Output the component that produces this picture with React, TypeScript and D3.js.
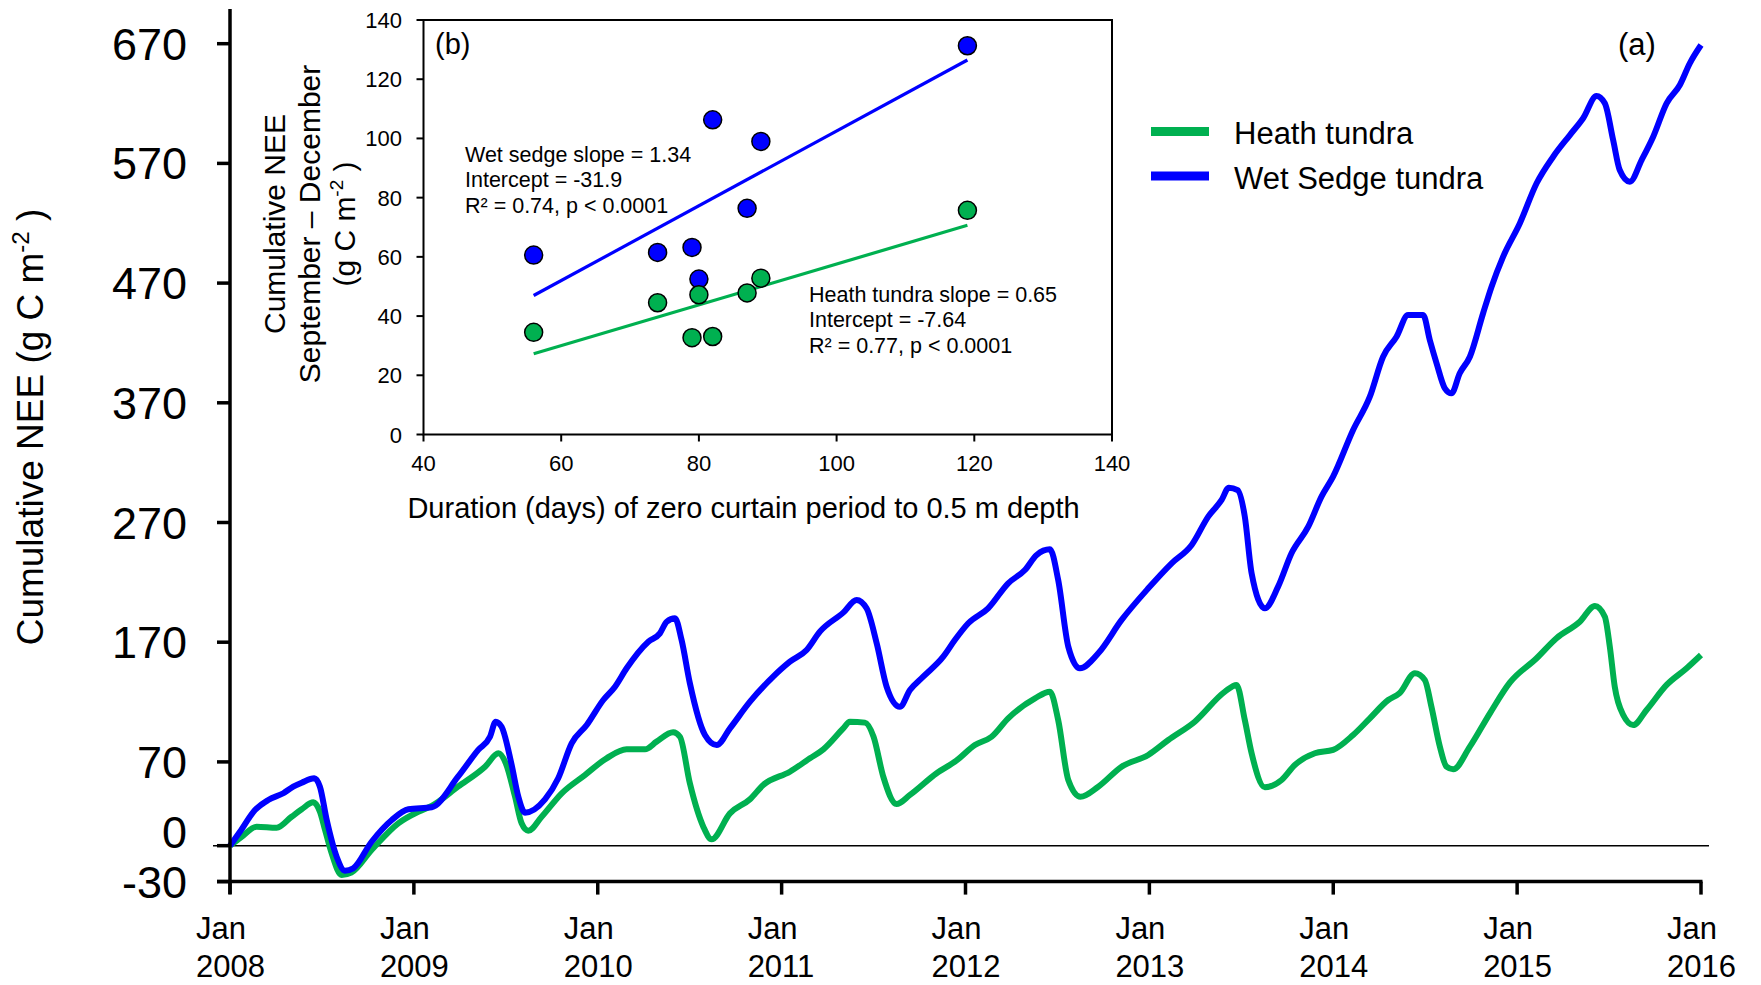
import React, { useEffect, useRef } from 'react';
import * as d3 from 'd3';

type Pt = [number, number]; // [decimal year, cumulative NEE]

const yearTicks = [2008, 2009, 2010, 2011, 2012, 2013, 2014, 2015, 2016];
const neeTicks = [-30, 0, 70, 170, 270, 370, 470, 570, 670];

const heathTundra: Pt[] = [
  [2008.0, 0], [2008.06, 7], [2008.145, 15.9], [2008.254, 15], [2008.335, 24.2], [2008.39, 30.4],
  [2008.453, 36.2], [2008.489, 28.4], [2008.517, 13.1], [2008.553, -6.4], [2008.607, -24.5],
  [2008.66, -22.5], [2008.77, -3.6], [2008.915, 18.7], [2009.024, 28.4], [2009.097, 33.2],
  [2009.24, 49.3], [2009.387, 66], [2009.46, 77.2], [2009.5, 68.8], [2009.55, 41], [2009.586, 18.7],
  [2009.622, 12.5], [2009.695, 24.2], [2009.804, 43.8], [2009.93, 59], [2010.048, 73],
  [2010.157, 80.5], [2010.257, 80.5], [2010.32, 86.9], [2010.41, 94.7], [2010.447, 91],
  [2010.501, 52.1], [2010.574, 15.9], [2010.619, 5.3], [2010.719, 27], [2010.828, 38.8],
  [2010.9, 50.7], [2011.045, 61.8], [2011.154, 73], [2011.227, 80.5], [2011.335, 98],
  [2011.371, 103.6], [2011.453, 102.8], [2011.5, 91], [2011.553, 57.6], [2011.625, 34.8],
  [2011.698, 42.4], [2011.843, 60.5], [2011.95, 71], [2012.051, 84.1], [2012.142, 91],
  [2012.232, 106.4], [2012.378, 123.1], [2012.459, 128.7], [2012.504, 105], [2012.559, 54.9],
  [2012.625, 40.9], [2012.722, 49.3], [2012.849, 66], [2012.994, 75.8], [2013.103, 88.3],
  [2013.247, 103.6], [2013.411, 128.7], [2013.474, 134.3], [2013.519, 105], [2013.556, 77.2],
  [2013.628, 48.8], [2013.719, 54.9], [2013.791, 67.4], [2013.9, 77.2], [2013.999, 80],
  [2014.108, 92.5], [2014.199, 106.4], [2014.299, 121.7], [2014.36, 127.3], [2014.444, 144],
  [2014.498, 138.4], [2014.534, 116.1], [2014.58, 82.7], [2014.616, 66], [2014.652, 63.8],
  [2014.743, 82.7], [2014.852, 110.6], [2014.96, 136.2], [2015.106, 156.6], [2015.214, 173.3],
  [2015.341, 187.1], [2015.423, 200.3], [2015.477, 191.3], [2015.504, 166.3], [2015.531, 132.8],
  [2015.577, 109.2], [2015.631, 100.8], [2015.704, 113.4], [2015.813, 134.3], [2015.922, 148.2],
  [2016.0, 159.3],
];

const wetSedgeTundra: Pt[] = [
  [2008.0, 0], [2008.054, 11.7], [2008.136, 29.8], [2008.208, 38.2], [2008.29, 43.8],
  [2008.344, 49.3], [2008.39, 52.6], [2008.458, 56.3], [2008.489, 49.3], [2008.526, 21.5],
  [2008.58, -9.2], [2008.625, -20.9], [2008.67, -18.9], [2008.77, 3.3], [2008.88, 21.5],
  [2008.97, 30.4], [2009.097, 32.1], [2009.24, 57.6], [2009.35, 80], [2009.414, 91],
  [2009.445, 103.6], [2009.477, 99.4], [2009.53, 68.8], [2009.568, 41], [2009.604, 27.6],
  [2009.713, 38.7], [2009.785, 56.3], [2009.858, 85.5], [2009.94, 100.8], [2010.03, 121.7],
  [2010.094, 132.8], [2010.157, 148.2], [2010.275, 170.4], [2010.338, 177.4], [2010.375, 187.1],
  [2010.42, 190], [2010.456, 171.8], [2010.501, 135.7], [2010.583, 92.5], [2010.647, 84.1],
  [2010.719, 98], [2010.828, 120.3], [2010.954, 141.2], [2011.045, 153.7], [2011.136, 163.5],
  [2011.208, 178.8], [2011.335, 194.7], [2011.408, 205.3], [2011.462, 198.3], [2011.517, 169.1],
  [2011.571, 132.8], [2011.643, 116.1], [2011.698, 130], [2011.77, 141.2], [2011.879, 157.9],
  [2011.942, 171.8], [2012.015, 185.8], [2012.123, 198.3], [2012.232, 219.2], [2012.323, 230.3],
  [2012.387, 242.9], [2012.459, 247.6], [2012.504, 222], [2012.559, 166.3], [2012.622, 148.2],
  [2012.722, 160.7], [2012.849, 188.6], [2012.994, 215], [2013.121, 235.9], [2013.23, 251.2],
  [2013.32, 274.9], [2013.393, 288.8], [2013.432, 299.1], [2013.48, 297.1], [2013.519, 274.9],
  [2013.556, 227.6], [2013.628, 198.3], [2013.7, 216.4], [2013.773, 244.3], [2013.864, 266.5],
  [2013.936, 291.6], [2013.999, 308.3], [2014.108, 347.3], [2014.199, 375.1], [2014.271, 408.5],
  [2014.344, 425.2], [2014.407, 443.4], [2014.489, 443.4], [2014.525, 422.5], [2014.562, 403],
  [2014.607, 382.1], [2014.643, 377.9], [2014.688, 394.7], [2014.743, 408.5], [2014.815, 444.8],
  [2014.861, 467], [2014.924, 492.1], [2015.015, 520], [2015.106, 553.4], [2015.196, 575.6],
  [2015.287, 593.7], [2015.359, 607.7], [2015.432, 626.3], [2015.477, 620.2], [2015.522, 589.6],
  [2015.558, 564.5], [2015.613, 554.7], [2015.677, 572.8], [2015.74, 592.3], [2015.813, 620.2],
  [2015.885, 635.5], [2015.939, 653.6], [2016.0, 668.9],
];

// inset (b)
const zeroCurtainDays = [56, 74, 79, 80, 82, 87, 89, 119];
const wetSedgeSepDec = [60.6, 61.5, 63.2, 52.5, 106.3, 76.4, 99, 131.3];
const heathSepDec = [34.5, 44.5, 32.7, 47.2, 33.1, 47.8, 52.8, 75.7];
const insetXTicks = [40, 60, 80, 100, 120, 140];
const insetYTicks = [0, 20, 40, 60, 80, 100, 120, 140];
const wetSedgeStats = ['Wet sedge slope = 1.34', 'Intercept = -31.9', 'R² = 0.74, p < 0.0001'];
const heathStats = ['Heath tundra slope = 0.65', 'Intercept = -7.64', 'R² = 0.77, p < 0.0001'];

const GREEN = '#00b050';
const BLUE = '#0000ff';
const FONT = 'Arial, "Liberation Sans", sans-serif';

// least squares fit through the inset points
function fit(xs: number[], ys: number[]) {
  const mx = d3.mean(xs)!;
  const my = d3.mean(ys)!;
  let sxy = 0;
  let sxx = 0;
  xs.forEach((x, i) => {
    sxy += (x - mx) * (ys[i] - my);
    sxx += (x - mx) * (x - mx);
  });
  const slope = sxy / sxx;
  return (x: number) => my + slope * (x - mx);
}

const App: React.FC = () => {
  const svgRef = useRef<SVGSVGElement>(null);

  useEffect(() => {
    if (!svgRef.current) return;
    const svg = d3.select(svgRef.current);
    svg.selectAll('*').remove();
    svg.attr('font-family', FONT);

    // ---- main panel (a)
    const x = d3.scaleLinear().domain([2008, 2016]).range([230, 1701]);
    const y = d3.scaleLinear().domain([-30, 670]).range([881.6, 43.7]);

    const main = svg.append('g');

    // zero line
    main
      .append('line')
      .attr('x1', 213)
      .attr('x2', 1709)
      .attr('y1', y(0))
      .attr('y2', y(0))
      .attr('stroke', '#000')
      .attr('stroke-width', 1.6);

    const line = d3
      .line<Pt>()
      .x((d) => x(d[0]))
      .y((d) => y(d[1]))
      .curve(d3.curveMonotoneX);

    main
      .append('path')
      .datum(heathTundra)
      .attr('d', line)
      .attr('fill', 'none')
      .attr('stroke', GREEN)
      .attr('stroke-width', 6)
      .attr('stroke-linejoin', 'round');

    main
      .append('path')
      .datum(wetSedgeTundra)
      .attr('d', line)
      .attr('fill', 'none')
      .attr('stroke', BLUE)
      .attr('stroke-width', 6)
      .attr('stroke-linejoin', 'round');

    // y axis
    main
      .append('line')
      .attr('x1', 230)
      .attr('x2', 230)
      .attr('y1', 9)
      .attr('y2', 894)
      .attr('stroke', '#000')
      .attr('stroke-width', 3.5);

    main
      .selectAll('line.ytick')
      .data(neeTicks)
      .enter()
      .append('line')
      .attr('class', 'ytick')
      .attr('x1', 217)
      .attr('x2', 230)
      .attr('y1', (d) => y(d))
      .attr('y2', (d) => y(d))
      .attr('stroke', '#000')
      .attr('stroke-width', 3.5);

    main
      .selectAll('text.ylab')
      .data(neeTicks)
      .enter()
      .append('text')
      .attr('class', 'ylab')
      .attr('x', 187)
      .attr('y', (d) => y(d) + 16 + (d === 0 ? -14 : 0))
      .attr('text-anchor', 'end')
      .attr('font-size', 45)
      .text((d) => d);

    // x axis
    main
      .append('line')
      .attr('x1', 217)
      .attr('x2', x(2016) + 1.5)
      .attr('y1', y(-30))
      .attr('y2', y(-30))
      .attr('stroke', '#000')
      .attr('stroke-width', 3.5);

    main
      .selectAll('line.xtick')
      .data(yearTicks)
      .enter()
      .append('line')
      .attr('class', 'xtick')
      .attr('x1', (d) => x(d))
      .attr('x2', (d) => x(d))
      .attr('y1', y(-30))
      .attr('y2', y(-30) + 13)
      .attr('stroke', '#000')
      .attr('stroke-width', 3.5);

    const xlab = main
      .selectAll('text.xlab')
      .data(yearTicks)
      .enter()
      .append('text')
      .attr('class', 'xlab')
      .attr('font-size', 31);
    xlab
      .append('tspan')
      .attr('x', (d) => x(d) - 34)
      .attr('y', 939)
      .text('Jan');
    xlab
      .append('tspan')
      .attr('x', (d) => x(d) - 34)
      .attr('y', 977)
      .text((d) => d);

    // y title
    const ytitle = main
      .append('text')
      .attr('transform', 'translate(43, 427) rotate(-90)')
      .attr('text-anchor', 'middle')
      .attr('font-size', 37);
    ytitle.append('tspan').text('Cumulative NEE (g C m');
    ytitle.append('tspan').attr('font-size', 24).attr('dy', -14).text('-2');
    ytitle.append('tspan').attr('dy', 14).text(' )');

    main
      .append('text')
      .attr('x', 1618)
      .attr('y', 55)
      .attr('font-size', 31)
      .text('(a)');

    // legend
    const legend = main.append('g');
    const legendItems = [
      { name: 'Heath tundra', color: GREEN },
      { name: 'Wet Sedge tundra', color: BLUE },
    ];
    legendItems.forEach((item, i) => {
      const cy = 131.5 + i * 44.5;
      legend
        .append('line')
        .attr('x1', 1151)
        .attr('x2', 1209)
        .attr('y1', cy)
        .attr('y2', cy)
        .attr('stroke', item.color)
        .attr('stroke-width', 9);
      legend
        .append('text')
        .attr('x', 1234)
        .attr('y', cy + 12.5)
        .attr('font-size', 31)
        .text(item.name);
    });

    // ---- inset (b)
    const ix = d3.scaleLinear().domain([40, 140]).range([423.5, 1112]);
    const iy = d3.scaleLinear().domain([0, 140]).range([434.5, 20]);
    const inset = svg.append('g');

    inset
      .append('rect')
      .attr('x', ix(40))
      .attr('y', iy(140))
      .attr('width', ix(140) - ix(40))
      .attr('height', iy(0) - iy(140))
      .attr('fill', '#fff')
      .attr('stroke', '#000')
      .attr('stroke-width', 2);

    inset
      .selectAll('line.iyt')
      .data(insetYTicks)
      .enter()
      .append('line')
      .attr('x1', ix(40) - 7)
      .attr('x2', ix(40))
      .attr('y1', (d) => iy(d))
      .attr('y2', (d) => iy(d))
      .attr('stroke', '#000')
      .attr('stroke-width', 2);

    inset
      .selectAll('text.iyl')
      .data(insetYTicks)
      .enter()
      .append('text')
      .attr('x', 402)
      .attr('y', (d) => iy(d) + 8)
      .attr('text-anchor', 'end')
      .attr('font-size', 22)
      .text((d) => d);

    inset
      .selectAll('line.ixt')
      .data(insetXTicks)
      .enter()
      .append('line')
      .attr('x1', (d) => ix(d))
      .attr('x2', (d) => ix(d))
      .attr('y1', iy(0))
      .attr('y2', iy(0) + 7)
      .attr('stroke', '#000')
      .attr('stroke-width', 2);

    inset
      .selectAll('text.ixl')
      .data(insetXTicks)
      .enter()
      .append('text')
      .attr('x', (d) => ix(d))
      .attr('y', 471)
      .attr('text-anchor', 'middle')
      .attr('font-size', 22)
      .text((d) => d);

    inset
      .append('text')
      .attr('x', 743.5)
      .attr('y', 518)
      .attr('text-anchor', 'middle')
      .attr('font-size', 29)
      .text('Duration (days) of zero curtain period to 0.5 m depth');

    const iyTitle = inset
      .append('text')
      .attr('transform', 'translate(0, 224) rotate(-90)')
      .attr('text-anchor', 'middle')
      .attr('font-size', 30);
    iyTitle.append('tspan').attr('x', 0).attr('y', 285).text('Cumulative NEE');
    iyTitle.append('tspan').attr('x', 0).attr('y', 320).text('September – December');
    const l3 = iyTitle.append('tspan').attr('x', 0).attr('y', 355);
    l3.text('(g C m');
    iyTitle.append('tspan').attr('font-size', 19).attr('dy', -12).text('-2');
    iyTitle.append('tspan').attr('dy', 12).text(' )');

    inset
      .append('text')
      .attr('x', 435)
      .attr('y', 54)
      .attr('font-size', 29)
      .text('(b)');

    // regression lines
    const xExtent = d3.extent(zeroCurtainDays) as [number, number];
    const fits = [
      { f: fit(zeroCurtainDays, wetSedgeSepDec), color: BLUE },
      { f: fit(zeroCurtainDays, heathSepDec), color: GREEN },
    ];
    fits.forEach(({ f, color }) => {
      inset
        .append('line')
        .attr('x1', ix(xExtent[0]))
        .attr('x2', ix(xExtent[1]))
        .attr('y1', iy(f(xExtent[0])))
        .attr('y2', iy(f(xExtent[1])))
        .attr('stroke', color)
        .attr('stroke-width', 3.2);
    });

    const pointSets = [
      { ys: wetSedgeSepDec, color: BLUE },
      { ys: heathSepDec, color: GREEN },
    ];
    pointSets.forEach(({ ys, color }) => {
      inset
        .append('g')
        .selectAll('circle')
        .data(zeroCurtainDays)
        .enter()
        .append('circle')
        .attr('cx', (d) => ix(d))
        .attr('cy', (_d, i) => iy(ys[i]))
        .attr('r', 9)
        .attr('fill', color)
        .attr('stroke', '#000')
        .attr('stroke-width', 1.5);
    });

    const stats = [
      { lines: wetSedgeStats, x: 465, y: 161.5 },
      { lines: heathStats, x: 809, y: 301.5 },
    ];
    stats.forEach((s) => {
      s.lines.forEach((t, i) => {
        inset
          .append('text')
          .attr('x', s.x)
          .attr('y', s.y + i * 25.5)
          .attr('font-size', 21.5)
          .text(t);
      });
    });
  }, []);

  return (
    <svg
      ref={svgRef}
      width={1761}
      height={985}
      style={{ position: 'absolute', left: 0, top: 0, background: '#fff' }}
    ></svg>
  );
};

export default App;
